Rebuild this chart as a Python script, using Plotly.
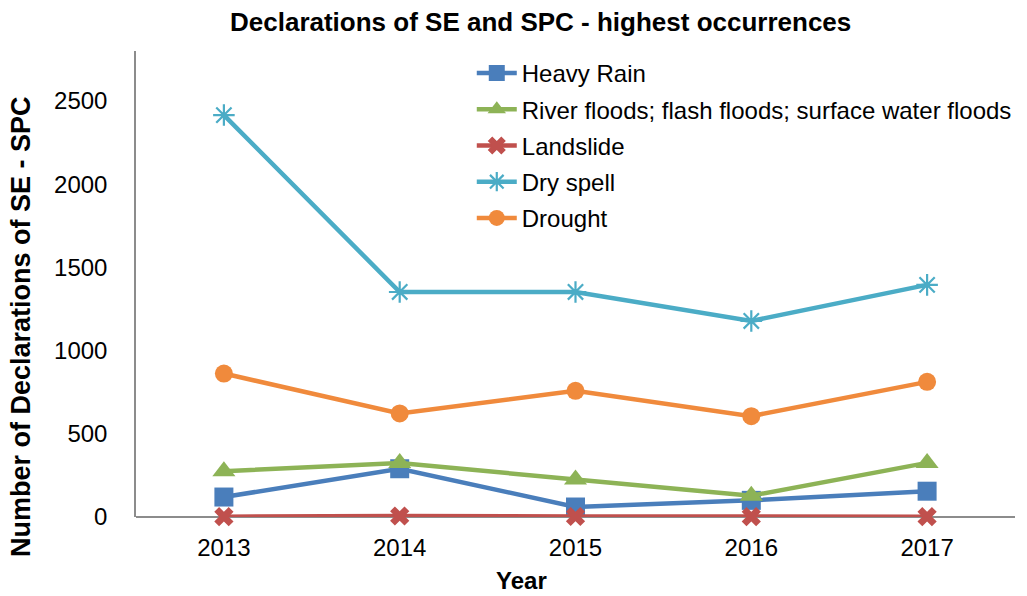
import plotly.graph_objects as go

# Yearly declarations of SE / SPC by event type
years = ["2013", "2014", "2015", "2016", "2017"]
heavy_rain = [120, 290, 60, 100, 155]
river_floods = [275, 325, 225, 128, 325]
landslide = [2, 6, 3, 2, 2]
dry_spell = [2415, 1352, 1352, 1178, 1395]
drought = [862, 622, 758, 606, 812]

FONT = "Liberation Sans, Arial, sans-serif"

series = [
    ("Heavy Rain", heavy_rain, "#4A7EBB", dict(symbol="square", size=19)),
    ("River floods; flash floods; surface water floods", river_floods, "#8DB356",
     dict(symbol="triangle-up", size=20)),
    ("Landslide", landslide, "#C0504D", dict(symbol="x", size=17)),
    ("Dry spell", dry_spell, "#4BACC6",
     dict(symbol="asterisk-open", size=18, line=dict(width=2.2, color="#4BACC6"))),
    ("Drought", drought, "#F08A3C", dict(symbol="circle", size=18)),
]

fig = go.Figure()
for name, vals, color, mk in series:
    marker = dict(color=color, **mk)
    fig.add_trace(go.Scatter(
        x=years, y=vals, name=name, mode="lines+markers",
        line=dict(color=color, width=4.5),
        marker=marker, legendgroup=name, cliponaxis=False,
    ))

fig.update_layout(
    width=1027, height=596,
    margin=dict(l=136, r=12, t=51, b=79, autoexpand=False),
    paper_bgcolor="white", plot_bgcolor="white",
    font=dict(family=FONT, color="black", size=22),
    showlegend=True,
    legend=dict(
        x=0.382, y=1.0, xanchor="left", yanchor="top",
        font=dict(size=24, family=FONT),
        bgcolor="rgba(0,0,0,0)", tracegroupgap=2,
        itemwidth=40,
    ),
    xaxis=dict(
        type="category", range=[-0.5, 4.5],
        showline=False, showgrid=False, zeroline=False,
        ticks="", tickfont=dict(size=24, family=FONT), ticklabelstandoff=14,
    ),
    yaxis=dict(
        range=[0, 2800], tickvals=[0, 500, 1000, 1500, 2000, 2500],
        showline=True, linecolor="#8C8C8C", linewidth=1.5,
        showgrid=False, zeroline=True, zerolinecolor="#8C8C8C", zerolinewidth=1.5,
        ticks="", tickfont=dict(size=24, family=FONT), ticklabelstandoff=22,
    ),
    annotations=[
        dict(text="<b>Declarations of SE and SPC - highest occurrences</b>",
             x=540, y=596 - 22, font=dict(size=26, family=FONT)),
        dict(text="<b>Year</b>", x=521, y=596 - 580, font=dict(size=24, family=FONT)),
        dict(text="<b>Number of Declarations of SE - SPC</b>", x=21, y=596 - 327,
             textangle=-90, font=dict(size=27, family=FONT)),
    ],
)

# convert pixel positions of the annotations into paper fractions
pw, ph = 1027 - 136 - 12, 596 - 51 - 79
for a in fig.layout.annotations:
    a.x = (a.x - 136) / pw
    a.y = (a.y - 79) / ph
    a.xref = "paper"
    a.yref = "paper"
    a.xanchor = "center"
    a.yanchor = "middle"
    a.showarrow = False

fig.write_html("out.html")
